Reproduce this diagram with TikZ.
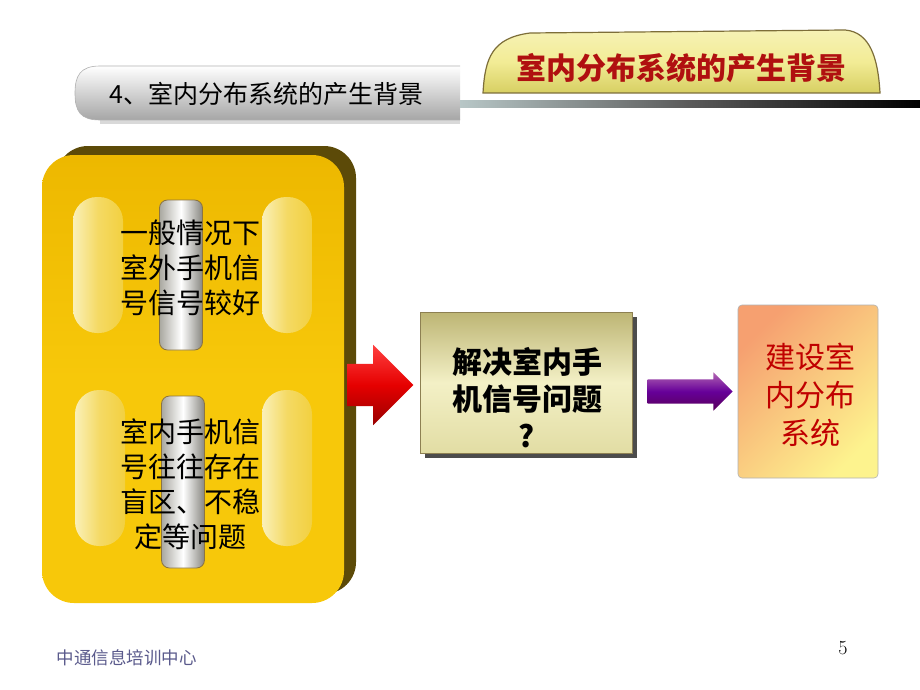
\documentclass[tikz,border=0pt]{standalone}
\usepackage{fontspec}
\newfontfamily\cjk{Noto Sans CJK SC}
\usetikzlibrary{shapes.arrows,calc}
\definecolor{gold}{HTML}{F7C80A}
\definecolor{goldtop}{HTML}{EDB800}
\definecolor{olivesh}{HTML}{5C4A08}
\definecolor{paleY}{HTML}{FAF0B8}
\definecolor{midY}{HTML}{F2D040}
\definecolor{pillgray}{HTML}{A9A8A0}
\definecolor{pillborder}{HTML}{8C7440}
\definecolor{khakiT}{HTML}{BDB574}
\definecolor{khakiM}{HTML}{F3F0C6}
\definecolor{khakiB}{HTML}{E2DDA4}
\definecolor{peach}{HTML}{F6A070}
\definecolor{lemon}{HTML}{FDF38E}
\definecolor{darkred}{HTML}{C00000}
\definecolor{bannerred}{HTML}{B01010}
\definecolor{bannerY}{HTML}{F2EC96}
\definecolor{bannerYd}{HTML}{D7CF62}
\definecolor{footer}{HTML}{5A5A8C}
\begin{document}
\begin{tikzpicture}[x=1pt,y=-1pt,
  pill/.style={rounded corners=24pt, minimum width=50pt, minimum height=136pt, inner sep=0pt,
     left color=paleY, right color=midY, middle color=midY!70!paleY},
  graypill/.style={rounded corners=8pt, minimum width=43pt, inner sep=0pt, draw=pillborder, line width=0.8pt,
     left color=pillgray, right color=pillgray!80!black, middle color=white},
  bodytext/.style={font=\cjk\fontsize{28}{35}\selectfont, align=center, text=black},
  boldtext/.style={font=\cjk\bfseries\fontsize{30}{37}\selectfont, align=center, text=black},
  redtext/.style={font=\cjk\fontsize{30}{38}\selectfont, align=center, text=darkred},
  blockarrow/.style={single arrow, inner xsep=0pt, minimum height=#1, anchor=tail}
]
\useasboundingbox[fill=white] (0,0) rectangle (920,690);

% ---- header tabs ----
\fill[gray!30] (100,118) rectangle (460,124);
\path[top color=white, bottom color=gray!70, middle color=gray!35, draw=gray!60, line width=0.6pt]
  (460,66) -- (100,66) .. controls (80,66) and (75,76) .. (75,93)
  .. controls (75,111) and (80,120) .. (100,120) -- (460,120);
\node[anchor=west, font=\cjk\fontsize{25}{30}\selectfont, text=black] (lefttab) at (106,94) {4、室内分布系统的产生背景};

\path[top color=bannerY!70!white, bottom color=bannerYd, middle color=bannerY, draw=olivesh!80, line width=1.2pt]
  (483,93) .. controls (485,58) and (492,38) .. (530,33) -- (845,30)
  .. controls (870,32) and (878,58) .. (880,93) -- cycle;
\node[font=\cjk\bfseries\fontsize{30}{36}\selectfont, text=bannerred] (banner) at (681,68) {室内分布系统的产生背景};
\shade[left color=gray!40!cyan!20!gray!50, right color=black, middle color=gray!70!black] (460,101) rectangle (920,108);

% ---- big yellow box ----
\fill[olivesh, rounded corners=32pt] (56,146) rectangle (356,594);
\node[rounded corners=32pt, minimum width=302pt, minimum height=448pt, inner sep=0pt,
      top color=goldtop, bottom color=gold, middle color=gold] (bigbox) at (193,379) {};

\node[pill] (pillTL) at (98,265) {};
\node[pill] (pillTR) at (287,265) {};
\node[graypill, minimum height=150pt] (pillTC) at (181,275) {};
\node[bodytext] (textTop) at (190,268) {一般情况下\\室外手机信\\号信号较好};

\node[pill, minimum height=156pt] (pillBL) at (100,468) {};
\node[pill, minimum height=156pt] (pillBR) at (287,468) {};
\node[graypill, minimum height=172pt] (pillBC) at (183,482) {};
\node[bodytext] (textBot) at (190,484) {室内手机信\\号往往存在\\盲区、不稳\\定等问题};

% ---- middle box ----
\fill[gray!60!black] (425,317) rectangle (637,458);
\node[minimum width=212pt, minimum height=141pt, inner sep=0pt, draw=olivesh!70, line width=0.6pt,
      top color=khakiT, bottom color=khakiB, middle color=khakiM] (midbox) at (526,382.5) {};
\node[boldtext] (midtext) at (527,398) {解决室内手\\机信号问题\\?};

% ---- right box ----
\node[rounded corners=4pt, minimum width=140pt, minimum height=173pt, inner sep=0pt, draw=gray!60, line width=0.6pt,
      shading=axis, left color=lemon, right color=peach, shading angle=-135] (rightbox) at (808,391.5) {};
\node[redtext] (righttext) at (810,395) {建设室\\内分布\\系统};

% ---- arrows ----
\node[blockarrow=66pt, inner ysep=21pt, single arrow head extend=19pt,
      top color=red!75!white, bottom color=red!60!black, middle color=red!90!black] (arrowA)
      at ($(bigbox.east)+(3,6)$) {};
\node[blockarrow=85pt, inner ysep=12pt, single arrow head extend=7pt,
      top color=violet!60!white, bottom color=violet!70!black, middle color=violet!80!blue] (arrowB)
      at ($(midbox.east)+(15,9)$) {};

% ---- footer ----
\node[font=\cjk\fontsize{17.5}{20}\selectfont, text=footer, anchor=west] (footer) at (53,658) {中通信息培训中心};
\node[font=\fontsize{20}{24}\selectfont, text=black] (pageno) at (843,648) {5};
\end{tikzpicture}
\end{document}
